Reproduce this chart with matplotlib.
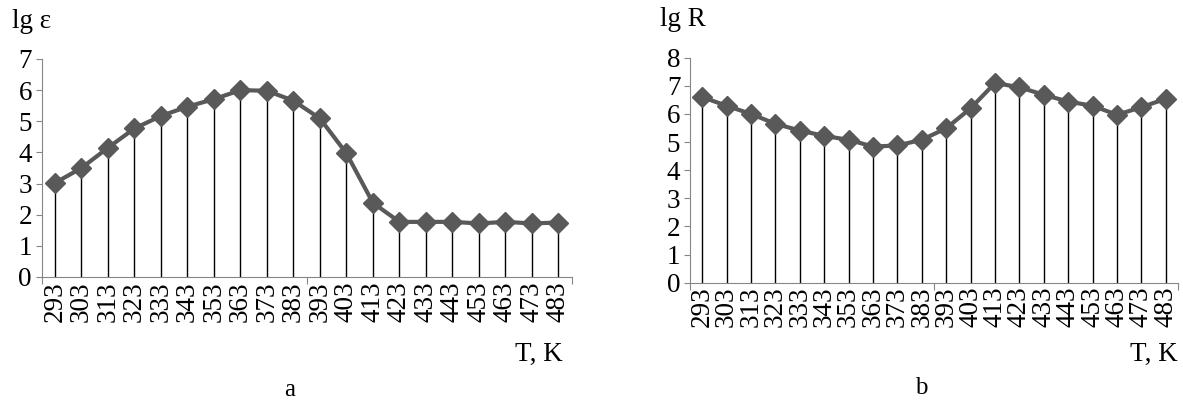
import numpy as np
import matplotlib.pyplot as plt

temps = [293, 303, 313, 323, 333, 343, 353, 363, 373, 383,
         393, 403, 413, 423, 433, 443, 453, 463, 473, 483]
lg_eps = [3.02, 3.50, 4.15, 4.77, 5.17, 5.47, 5.71, 6.00, 5.98, 5.66,
          5.09, 3.97, 2.38, 1.77, 1.77, 1.77, 1.72, 1.77, 1.72, 1.75]
lg_R = [6.60, 6.29, 6.00, 5.65, 5.41, 5.22, 5.08, 4.84, 4.88, 5.08,
        5.49, 6.20, 7.10, 6.95, 6.68, 6.44, 6.29, 5.97, 6.24, 6.54]

plt.rcParams['font.family'] = 'serif'
plt.rcParams['font.serif'] = ['Liberation Serif', 'DejaVu Serif']
line_col = '#595959'
axis_col = '#868686'

fig = plt.figure(figsize=(11.83, 4.04), dpi=100)


def panel(rect, values, ymax, ylab, ylab_xy, tk_xy, letter_xy, letter):
    ax = fig.add_axes(rect)
    x = np.arange(len(temps))
    ax.vlines(x, 0, values, color='black', lw=1.0, zorder=1)
    ax.plot(x, values, color=line_col, lw=3.0, marker='D', ms=10,
            mec=line_col, mfc=line_col, zorder=3, clip_on=False)
    ax.set_xlim(-0.5, len(temps) - 0.5)
    ax.set_ylim(0, ymax)
    ax.set_yticks(range(ymax + 1))
    ax.set_xticks([-0.5, 9.5, len(temps) - 0.5])
    ax.set_xticklabels([])
    ax.set_xticks(x, minor=True)
    ax.set_xticklabels([str(t) for t in temps], minor=True, rotation=90)
    ax.tick_params(axis='x', which='major', length=5, color=axis_col, direction='out')
    ax.tick_params(axis='x', which='minor', length=0, labelsize=19.5, pad=3)
    ax.tick_params(axis='y', length=4, color=axis_col, labelsize=19.5, pad=3)
    for s in ['top', 'right']:
        ax.spines[s].set_visible(False)
    for s in ['left', 'bottom']:
        ax.spines[s].set_color(axis_col)
    fig.text(ylab_xy[0], ylab_xy[1], ylab, fontsize=19.5, ha='left', va='center')
    fig.text(tk_xy[0], tk_xy[1], 'T, K', fontsize=19.5, ha='right', va='center')
    fig.text(letter_xy[0], letter_xy[1], letter, fontsize=18, ha='center', va='center')
    return ax


panel([41.7 / 1183, 1 - 277 / 404, 530 / 1183, 218 / 404], lg_eps, 7,
      'lg ε', (12 / 1183, 1 - 22 / 404), (563 / 1183, 1 - 354 / 404),
      (290 / 1183, 1 - 390 / 404), 'a')
panel([690 / 1183, 1 - 282.7 / 404, 488 / 1183, 225 / 404], lg_R, 8,
      'lg R', (660 / 1183, 1 - 20 / 404), (1178 / 1183, 1 - 354 / 404),
      (921 / 1183, 1 - 388 / 404), 'b')

fig.savefig('out.png', dpi=100)
